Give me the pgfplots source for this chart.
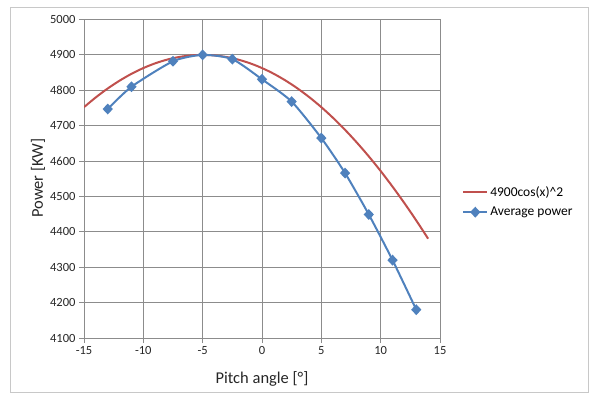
\documentclass[border=0pt]{standalone}
\usepackage{fontspec}
\setmainfont{Carlito}
\usepackage{pgfplots}
\pgfplotsset{compat=1.18}
\definecolor{exred}{RGB}{192,80,77}
\definecolor{exblue}{RGB}{79,129,189}
\definecolor{gridgray}{RGB}{140,140,140}
\definecolor{framegray}{RGB}{200,200,200}
\begin{document}
\begin{tikzpicture}
\path[use as bounding box] (0,0) rectangle (593bp,-396bp);
\draw[framegray,line width=0.8bp] (10bp,-7bp) rectangle (588bp,-392bp);
\begin{axis}[
  at={(84bp,-338bp)}, anchor=south west,
  scale only axis, width=356bp, height=318.5bp,
  xmin=-15, xmax=15, ymin=4100, ymax=5000,
  xtick={-15,-10,...,15}, ytick={4100,4200,...,5000},
  grid=major,
  grid style={gridgray, line width=0.8bp},
  axis line style={gridgray, line width=0.9bp},
  tick style={gridgray, line width=0.8bp},
  tick align=outside, major tick length=5bp,
  xtick pos=bottom, ytick pos=left,
  /pgf/number format/assume math mode=true,
  /pgf/number format/set thousands separator={},
  ticklabel style={font=\fontsize{12.5bp}{14bp}\selectfont, text=black!85},
  xlabel={Pitch angle [°]}, ylabel={Power [KW]},
  label style={font=\fontsize{16.5bp}{18bp}\selectfont, text=black!85},
  xlabel style={at={(axis description cs:0.5,-0.1287)}, anchor=center},
  ylabel style={at={(axis description cs:-0.129,0.502)}, anchor=center, rotate=0},
  legend style={at={(axis description cs:1.062,0.427)}, anchor=west, draw=none, fill=none,
    font=\fontsize{13.5bp}{15bp}\selectfont, row sep=5bp, inner sep=0pt},
  legend cell align=left,
  legend image code/.code={
    \draw[mark repeat=2,mark phase=2,#1] plot coordinates {(0bp,0bp) (12bp,0bp) (24bp,0bp)};
  },
]
\addplot[exred, line width=2bp, no marks, smooth] coordinates {
(-15,4752.3) (-14,4780.1) (-13,4805.1) (-12,4827.2) (-11,4846.5) (-10,4862.8)
(-9,4876.2) (-8,4886.6) (-7,4894.0) (-6,4898.5) (-5,4900.0) (-4,4898.5)
(-3,4894.0) (-2,4886.6) (-1,4876.2) (0,4862.8) (1,4846.5) (2,4827.2)
(3,4805.1) (4,4780.1) (5,4752.3) (6,4721.6) (7,4688.2) (8,4652.0)
(9,4613.2) (10,4571.8) (11,4527.7) (12,4481.1) (13,4432.1) (14,4380.6)
};
\addlegendentry{4900cos(x)\textasciicircum 2}
\addplot[exblue, line width=2bp, smooth, tension=0.4, mark=diamond*, mark size=4bp,
  mark options={xscale=1.25, solid}] coordinates {
(-13,4747) (-11,4810) (-7.5,4882) (-5,4900) (-2.5,4888) (0,4831)
(2.5,4768) (5,4665) (7,4566) (9,4449) (11,4320) (13,4180)
};
\addlegendentry{Average power}
\end{axis}
\end{tikzpicture}
\end{document}
